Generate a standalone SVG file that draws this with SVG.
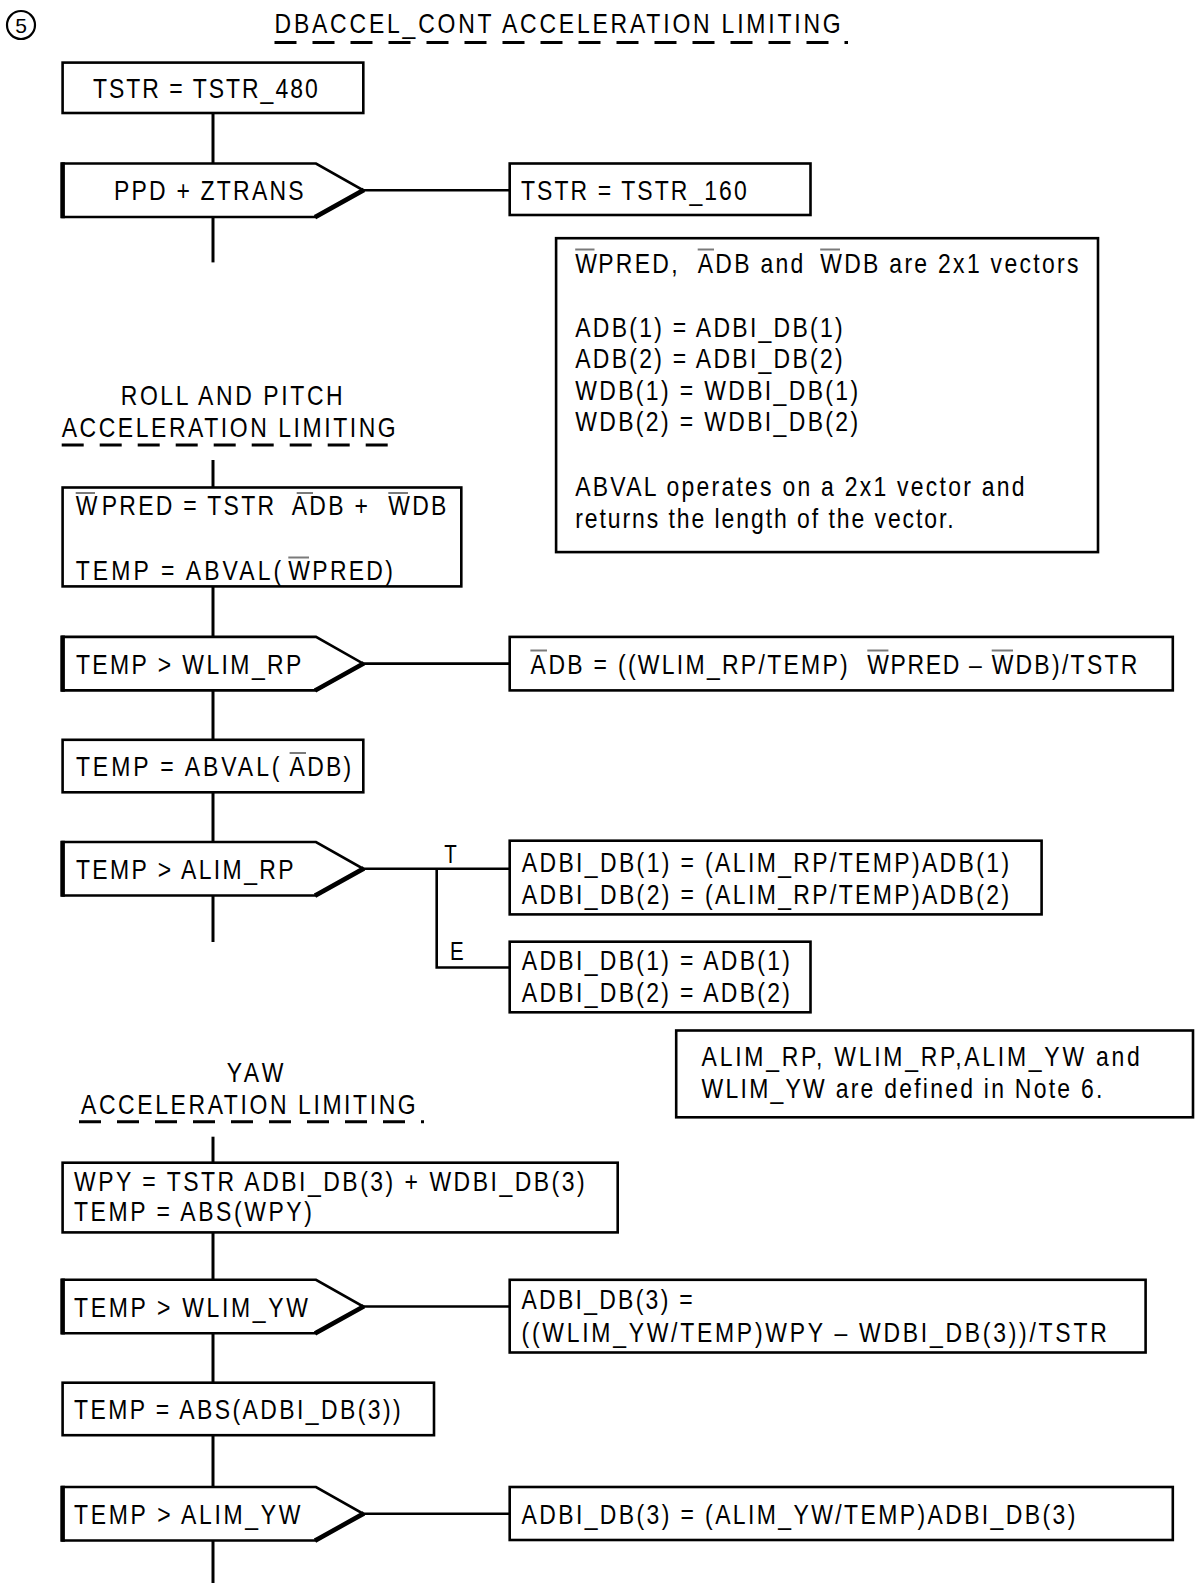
<svg xmlns="http://www.w3.org/2000/svg" xmlns:xlink="http://www.w3.org/1999/xlink" width="1196" height="1583" viewBox="0 0 1196 1583">
<style>
.t{font-family:"Liberation Sans",Arial,Helvetica,sans-serif;font-size:28px;letter-spacing:2.8px;fill:#000}
.box{fill:#fff;stroke:#000;stroke-width:2.6}
.flow{stroke:#000;stroke-width:3;fill:none}
.conn{stroke:#000;stroke-width:2.6;fill:none}
.ob{stroke:#7a7a7a;stroke-width:2}
.dash{stroke:#000;stroke-width:3;stroke-dasharray:22 16}
.dec{fill:#fff;stroke:#000;stroke-width:2.6;stroke-linejoin:miter}
.decs{fill:none;stroke:#000;stroke-width:4.6;stroke-linecap:square}
</style>
<defs>
<g id="decision">
<path class="dec" d="M62.6 0 H316 L363.3 26.75 L316 53.5 H62.6 Z"/>
<path class="decs" d="M62.6 1 V52.5 M317 52.5 L362 27.5"/>
</g>
</defs>
<rect width="1196" height="1583" fill="#fff"/>

<g id="connectors">
<line class="flow" x1="213" y1="113" x2="213" y2="163.5"/>
<line class="flow" x1="213" y1="217" x2="213" y2="262.4"/>
<line class="flow" x1="213" y1="460" x2="213" y2="487.5"/>
<line class="flow" x1="213" y1="586.4" x2="213" y2="636.9"/>
<line class="flow" x1="213" y1="690.4" x2="213" y2="739.8"/>
<line class="flow" x1="213" y1="792.3" x2="213" y2="842"/>
<line class="flow" x1="213" y1="895.5" x2="213" y2="942"/>
<line class="flow" x1="213" y1="1136.7" x2="213" y2="1162.7"/>
<line class="flow" x1="213" y1="1232.4" x2="213" y2="1279.8"/>
<line class="flow" x1="213" y1="1333.3" x2="213" y2="1382.7"/>
<line class="flow" x1="213" y1="1435.2" x2="213" y2="1487"/>
<line class="flow" x1="213" y1="1540.5" x2="213" y2="1583"/>
<line class="conn" x1="363.3" y1="190.25" x2="509.7" y2="190.25"/>
<line class="conn" x1="363.3" y1="663.65" x2="509.7" y2="663.65"/>
<line class="conn" x1="363.3" y1="868.75" x2="509.7" y2="868.75"/>
<polyline class="conn" points="436.7,868.75 436.7,967.5 509.7,967.5"/>
<line class="conn" x1="363.3" y1="1306.55" x2="509.7" y2="1306.55"/>
<line class="conn" x1="363.3" y1="1513.75" x2="509.7" y2="1513.75"/>
<text class="t" style="font-size:25px" transform="translate(444.3 863) scale(.82 1)">T</text>
<text class="t" style="font-size:25px" transform="translate(450 960) scale(.82 1)">E</text>
</g>

<g id="header">
<circle cx="21" cy="25" r="14" fill="none" stroke="#000" stroke-width="2.2"/>
<text class="t" style="font-size:21px;letter-spacing:0" text-anchor="middle" x="21" y="32.5">5</text>
<text class="t" transform="translate(274.5 33) scale(.82 1)" textLength="693.3" lengthAdjust="spacing">DBACCEL_CONT ACCELERATION LIMITING</text>
<line class="dash" x1="274.5" y1="42.5" x2="848" y2="42.5"/>
</g>

<g id="n1">
<rect class="box" x="62.6" y="62.6" width="300.7" height="50.4"/>
<text class="t" transform="translate(93 97.5) scale(.82 1)" textLength="276.8" lengthAdjust="spacing">TSTR = TSTR_480</text>
</g>

<g id="n2">
<use xlink:href="#decision" href="#decision" y="163.5"/>
<text class="t" transform="translate(113.9 200) scale(.82 1)" textLength="234.1" lengthAdjust="spacing">PPD + ZTRANS</text>
</g>

<g id="n3">
<rect class="box" x="509.7" y="163.5" width="300.8" height="51.5"/>
<text class="t" transform="translate(521 200) scale(.82 1)" textLength="278" lengthAdjust="spacing">TSTR = TSTR_160</text>
</g>

<g id="note1">
<rect class="box" x="556.1" y="238.2" width="541.9" height="313.9"/>
<text class="t" transform="translate(575.2 272.5) scale(.82 1)"><tspan x="0">W</tspan><tspan x="28.05">PRED, </tspan><tspan x="149.4">A</tspan><tspan>DB and </tspan><tspan x="298.8">W</tspan><tspan>DB are 2x1 vectors</tspan></text>
<line class="ob" x1="575.2" y1="249.5" x2="594.5" y2="249.5"/>
<line class="ob" x1="697.7" y1="249.5" x2="714" y2="249.5"/>
<line class="ob" x1="820.2" y1="249.5" x2="840" y2="249.5"/>
<text class="t" transform="translate(575.2 337) scale(.82 1)" textLength="329" lengthAdjust="spacing">ADB(1) = ADBI_DB(1)</text>
<text class="t" transform="translate(575.2 368) scale(.82 1)" textLength="329" lengthAdjust="spacing">ADB(2) = ADBI_DB(2)</text>
<text class="t" transform="translate(575.2 400) scale(.82 1)" textLength="347.8" lengthAdjust="spacing">WDB(1) = WDBI_DB(1)</text>
<text class="t" transform="translate(575.2 431) scale(.82 1)" textLength="347.8" lengthAdjust="spacing">WDB(2) = WDBI_DB(2)</text>
<text class="t" transform="translate(575.2 496) scale(.82 1)" textLength="550.7" lengthAdjust="spacing">ABVAL operates on a 2x1 vector and</text>
<text class="t" transform="translate(575.2 528) scale(.82 1)" textLength="464.4" lengthAdjust="spacing">returns the length of the vector.</text>
</g>

<g id="rp-heading">
<text class="t" transform="translate(120.7 405) scale(.82 1)" textLength="273.5" lengthAdjust="spacing">ROLL AND PITCH</text>
<text class="t" transform="translate(61.7 437) scale(.82 1)" textLength="410.1" lengthAdjust="spacing">ACCELERATION LIMITING</text>
<line class="dash" x1="61.7" y1="445" x2="401.7" y2="445"/>
</g>

<g id="n4">
<rect class="box" x="62.6" y="487.5" width="398.7" height="98.9"/>
<text class="t" transform="translate(75.7 515) scale(.82 1)"><tspan x="0">W</tspan><tspan x="31.7">PRED = TSTR</tspan><tspan x="263.4">A</tspan><tspan>DB + </tspan><tspan x="381.2">W</tspan><tspan>DB</tspan></text>
<line class="ob" x1="75.7" y1="493" x2="95" y2="493"/>
<line class="ob" x1="296.7" y1="493" x2="313" y2="493"/>
<line class="ob" x1="388.3" y1="493" x2="408" y2="493"/>
<text class="t" transform="translate(75.7 580) scale(.82 1)"><tspan x="0" style="letter-spacing:3.8px">TEMP = ABVAL(</tspan><tspan x="259.3">W</tspan><tspan>PRED)</tspan></text>
<line class="ob" x1="288.3" y1="557.5" x2="309" y2="557.5"/>
</g>

<g id="n5">
<use xlink:href="#decision" href="#decision" y="636.9"/>
<text class="t" transform="translate(75.9 673.6) scale(.82 1)" textLength="277.8" lengthAdjust="spacing">TEMP &gt; WLIM_RP</text>
</g>

<g id="n6">
<rect class="box" x="509.7" y="636.9" width="663.1" height="53.5"/>
<text class="t" transform="translate(530.4 673.6) scale(.82 1)"><tspan x="0">A</tspan><tspan x="22">DB = ((WLIM_RP/TEMP) </tspan><tspan x="410.9">W</tspan><tspan x="439.3" style="letter-spacing:2px">PRED – </tspan><tspan x="562.6">W</tspan><tspan x="591.6">DB)/TSTR</tspan></text>
<line class="ob" x1="530.4" y1="650.5" x2="547" y2="650.5"/>
<line class="ob" x1="867.3" y1="650.5" x2="888.4" y2="650.5"/>
<line class="ob" x1="991.7" y1="650.5" x2="1013" y2="650.5"/>
</g>

<g id="n7">
<rect class="box" x="62.6" y="739.8" width="300.7" height="52.5"/>
<text class="t" transform="translate(75.9 776) scale(.82 1)"><tspan x="0" style="letter-spacing:3.6px">TEMP = ABVAL( </tspan><tspan x="260.6">A</tspan><tspan x="282">DB)</tspan></text>
<line class="ob" x1="289.6" y1="753" x2="306" y2="753"/>
</g>

<g id="n8">
<use xlink:href="#decision" href="#decision" y="842"/>
<text class="t" transform="translate(75.9 878.8) scale(.82 1)" textLength="268.3" lengthAdjust="spacing">TEMP &gt; ALIM_RP</text>
</g>

<g id="n9">
<rect class="box" x="509.7" y="840.7" width="531.9" height="73.7"/>
<text class="t" transform="translate(521.8 872) scale(.82 1)" textLength="597" lengthAdjust="spacing">ADBI_DB(1) = (ALIM_RP/TEMP)ADB(1)</text>
<text class="t" transform="translate(521.8 904.3) scale(.82 1)" textLength="597" lengthAdjust="spacing">ADBI_DB(2) = (ALIM_RP/TEMP)ADB(2)</text>
</g>

<g id="n10">
<rect class="box" x="509.7" y="941.7" width="300.8" height="70.6"/>
<text class="t" transform="translate(521.8 970) scale(.82 1)" textLength="329.9" lengthAdjust="spacing">ADBI_DB(1) = ADB(1)</text>
<text class="t" transform="translate(521.8 1002) scale(.82 1)" textLength="329.9" lengthAdjust="spacing">ADBI_DB(2) = ADB(2)</text>
</g>

<g id="note2">
<rect class="box" x="676.2" y="1030.5" width="516.8" height="86.8"/>
<text class="t" transform="translate(701.6 1065.5) scale(.82 1)" textLength="537.1" lengthAdjust="spacing">ALIM_RP, WLIM_RP,ALIM_YW and</text>
<text class="t" transform="translate(701.6 1097.5) scale(.82 1)" textLength="491.5" lengthAdjust="spacing">WLIM_YW are defined in Note 6.</text>
</g>

<g id="yaw-heading">
<text class="t" transform="translate(226.7 1081.7) scale(.82 1)" textLength="72" lengthAdjust="spacing">YAW</text>
<text class="t" transform="translate(81 1113.7) scale(.82 1)" textLength="411" lengthAdjust="spacing">ACCELERATION LIMITING</text>
<line class="dash" x1="79" y1="1121.7" x2="424" y2="1121.7"/>
</g>

<g id="n11">
<rect class="box" x="62.6" y="1162.7" width="555.1" height="69.7"/>
<text class="t" transform="translate(74 1191) scale(.82 1)" textLength="625.6" lengthAdjust="spacing">WPY = TSTR ADBI_DB(3) + WDBI_DB(3)</text>
<text class="t" transform="translate(74 1221) scale(.82 1)" textLength="292.9" lengthAdjust="spacing">TEMP = ABS(WPY)</text>
</g>

<g id="n12">
<use xlink:href="#decision" href="#decision" y="1279.8"/>
<text class="t" transform="translate(74 1316.5) scale(.82 1)" textLength="288" lengthAdjust="spacing">TEMP &gt; WLIM_YW</text>
</g>

<g id="n13">
<rect class="box" x="509.7" y="1279.8" width="635.9" height="72.7"/>
<text class="t" transform="translate(521.5 1309.3) scale(.82 1)" textLength="211.5" lengthAdjust="spacing">ADBI_DB(3) =</text>
<text class="t" transform="translate(521.5 1342) scale(.82 1)" textLength="716.5" lengthAdjust="spacing">((WLIM_YW/TEMP)WPY – WDBI_DB(3))/TSTR</text>
</g>

<g id="n14">
<rect class="box" x="62.6" y="1382.7" width="371.4" height="52.5"/>
<text class="t" transform="translate(74 1419) scale(.82 1)" textLength="401.2" lengthAdjust="spacing">TEMP = ABS(ADBI_DB(3))</text>
</g>

<g id="n15">
<use xlink:href="#decision" href="#decision" y="1487"/>
<text class="t" transform="translate(74 1523.75) scale(.82 1)" textLength="279" lengthAdjust="spacing">TEMP &gt; ALIM_YW</text>
</g>

<g id="n16">
<rect class="box" x="509.7" y="1487" width="663.1" height="53"/>
<text class="t" transform="translate(521.5 1524) scale(.82 1)" textLength="678.2" lengthAdjust="spacing">ADBI_DB(3) = (ALIM_YW/TEMP)ADBI_DB(3)</text>
</g>
</svg>
